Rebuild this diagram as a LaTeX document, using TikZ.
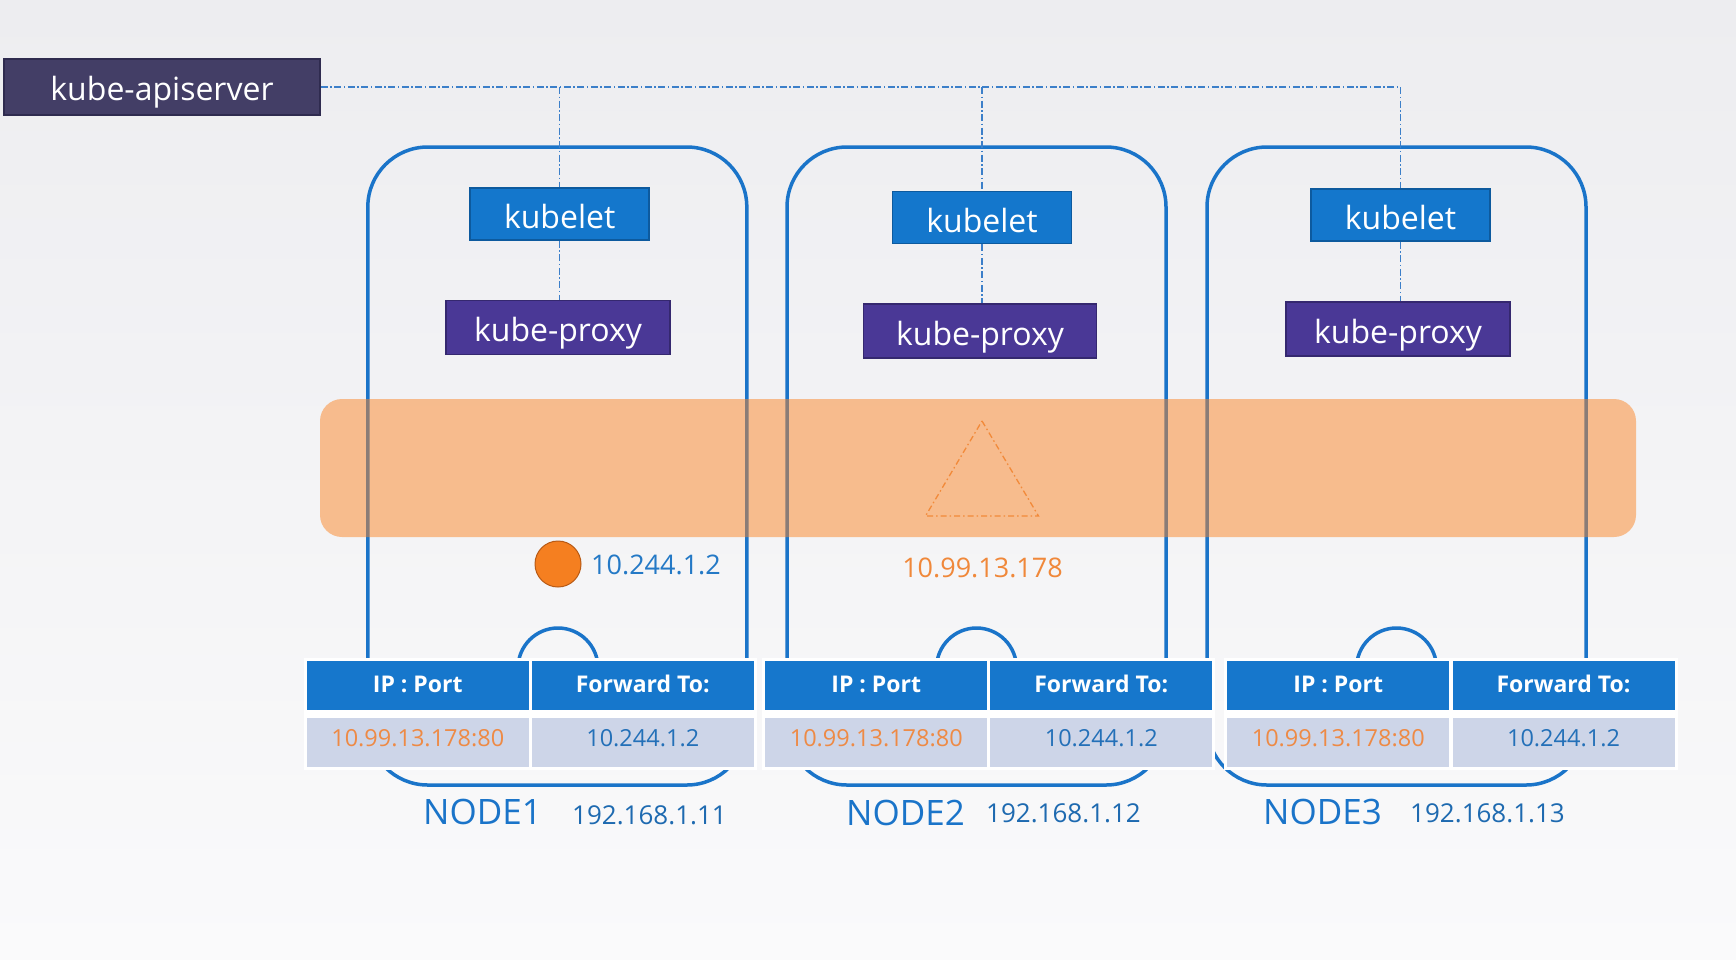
\documentclass[tikz,border=0pt]{standalone}
\usepackage{fontspec}
\setmainfont{Open Sans}
\definecolor{bgtop}{HTML}{EDEDF0}
\definecolor{bgbot}{HTML}{FAFAFB}
\definecolor{apicol}{HTML}{433E66}
\definecolor{apiborder}{HTML}{2F2B4F}
\definecolor{kblue}{HTML}{1477CC}
\definecolor{kborder}{HTML}{0D5A9E}
\definecolor{kpurple}{HTML}{4A3896}
\definecolor{pborder}{HTML}{35286F}
\definecolor{nblue}{HTML}{1A74C9}
\definecolor{linkblue}{HTML}{3C7FC9}
\definecolor{bandorange}{HTML}{FB8526}
\definecolor{triorange}{HTML}{F28A3A}
\definecolor{podorange}{HTML}{F57F20}
\definecolor{podborder}{HTML}{B85A15}
\definecolor{tblue}{HTML}{2479C6}
\definecolor{sorange}{HTML}{F0883A}
\definecolor{hblue}{HTML}{1677CC}
\definecolor{rowcol}{HTML}{CDD5E8}
\definecolor{rowblue}{HTML}{2370B8}
\definecolor{roworange}{HTML}{EE8A45}
\definecolor{ipblue}{HTML}{1E6AB0}
\begin{document}
\begin{tikzpicture}[x=1pt,y=-1pt,
  api/.style={fill=apicol, draw=apiborder, line width=1.5pt, text=white, minimum width=316pt, minimum height=56pt, inner sep=0pt, text height=26pt, text depth=0pt, font=\fontsize{32}{36}\selectfont},
  kubelet/.style={fill=kblue, draw=kborder, line width=1.5pt, text=white, minimum width=179pt, minimum height=52pt, inner sep=0pt, text height=29pt, text depth=0pt, font=\fontsize{32}{36}\selectfont},
  proxy/.style={fill=kpurple, draw=pborder, line width=1.5pt, text=white, minimum width=224pt, minimum height=54pt, inner sep=0pt, text height=28pt, text depth=0pt, font=\fontsize{32}{36}\selectfont},
  nodebox/.style={draw=nblue, line width=3.5pt, rounded corners=60pt, minimum width=379pt, minimum height=638pt, inner sep=0pt},
  link/.style={draw=linkblue, line width=1.2pt, dash pattern=on 7pt off 2.5pt on 1.5pt off 2.5pt},
  band/.style={fill=bandorange, fill opacity=0.5, rounded corners=22pt, minimum width=1316pt, minimum height=138pt, inner sep=0pt},
  hump/.style={circle, draw=nblue, line width=3.5pt, minimum size=80pt, inner sep=0pt},
  hdr/.style={fill=hblue, text=white, minimum width=222pt, minimum height=49pt, inner sep=0pt, text height=17pt, text depth=4pt, font=\bfseries\fontsize{23}{24}\selectfont},
  cell/.style={fill=rowcol, minimum width=222pt, minimum height=49pt, inner sep=0pt, text height=17pt, text depth=9pt, font=\fontsize{23.5}{24}\selectfont},
  nlabel/.style={anchor=base west, inner sep=0pt, text=nblue, font=\fontsize{35}{36}\selectfont},
  iplabel/.style={anchor=base west, inner sep=0pt, text=ipblue, font=\fontsize{26}{27}\selectfont}
]
\useasboundingbox (0,0) rectangle (1736,959);
\shade[top color=bgtop, bottom color=bgbot] (0,0) rectangle (1736,959);

% api server and kubelets
\node[api] (api) at (162,87) {kube-apiserver};
\node[kubelet] (kl1) at (559.7,214) {kubelet};
\node[kubelet] (kl2) at (982,217.5) {kubelet};
\node[kubelet] (kl3) at (1400.5,215) {kubelet};
\node[proxy] (kp1) at (558,327.5) {kube-proxy};
\node[proxy, minimum width=233pt] (kp2) at (980,331) {kube-proxy};
\node[proxy] (kp3) at (1398,329) {kube-proxy};

% node boxes
\node[nodebox] (n1) at (557.3,466) {};
\node[nodebox] (n2) at (976.5,466) {};
\node[nodebox] (n3) at (1396.5,466) {};

% links
\draw[link] (api.east) -- (kl3.north |- api.east) -- (kl3.north);
\draw[link] (kl1.north |- api.east) -- (kl1.north);
\draw[link] (kl2.north |- api.east) -- (kl2.north);
\draw[link] (kl1.south) -- (kl1.south |- kp1.north);
\draw[link] (kl2.south) -- (kl2.south |- kp2.north);
\draw[link] (kl3.south) -- (kl3.south |- kp3.north);

% service band
\node[band] (svc) at (978,468) {};
\draw[triorange, line width=1.3pt, dash pattern=on 6pt off 3pt on 1.5pt off 3pt] (982,421) -- (1038.5,516) -- (925.5,516) -- cycle;

% humps
\node[hump] (h1) at (558,668) {};
\node[hump] (h2) at (976.5,668) {};
\node[hump] (h3) at (1396.5,668) {};

% tables
\fill[white] (304,658) rectangle (757,770);
\fill[white] (762,658) rectangle (1215,770);
\fill[white] (1224,658) rectangle (1677.5,770);

\node[hdr] (t1a) at (417.75,685.5) {IP : Port};
\node[hdr] (t1b) at (642.75,685.5) {Forward To:};
\node[cell, text=roworange] (t1c) at (417.75,742.5) {10.99.13.178:80};
\node[cell, text=rowblue] (t1d) at (642.75,742.5) {10.244.1.2};

\node[hdr] (t2a) at (876.25,685.5) {IP : Port};
\node[hdr] (t2b) at (1101.25,685.5) {Forward To:};
\node[cell, text=roworange] (t2c) at (876.25,742.5) {10.99.13.178:80};
\node[cell, text=rowblue] (t2d) at (1101.25,742.5) {10.244.1.2};

\node[hdr] (t3a) at (1338.25,685.5) {IP : Port};
\node[hdr] (t3b) at (1563.5,685.5) {Forward To:};
\node[cell, text=roworange] (t3c) at (1338.25,742.5) {10.99.13.178:80};
\node[cell, text=rowblue] (t3d) at (1563.5,742.5) {10.244.1.2};

% pod and service ip
\node[circle, fill=podorange, draw=podborder, line width=1pt, minimum size=46pt, inner sep=0pt] (pod) at (558,564) {};
\node[anchor=west, inner sep=0pt, text=tblue, font=\fontsize{27}{28}\selectfont] (podip) at (591,564.5) {10.244.1.2};
\node[inner sep=0pt, text=sorange, font=\fontsize{27}{28}\selectfont] (svcip) at (982.5,567.5) {10.99.13.178};

% node labels
\node[nlabel] (nl1) at (423,824) {NODE1};
\node[iplabel] (ip1) at (572,824) {192.168.1.11};
\node[nlabel] (nl2) at (846,825) {NODE2};
\node[iplabel] (ip2) at (986,822) {192.168.1.12};
\node[nlabel] (nl3) at (1263,824) {NODE3};
\node[iplabel] (ip3) at (1410,822) {192.168.1.13};
\end{tikzpicture}
\end{document}
